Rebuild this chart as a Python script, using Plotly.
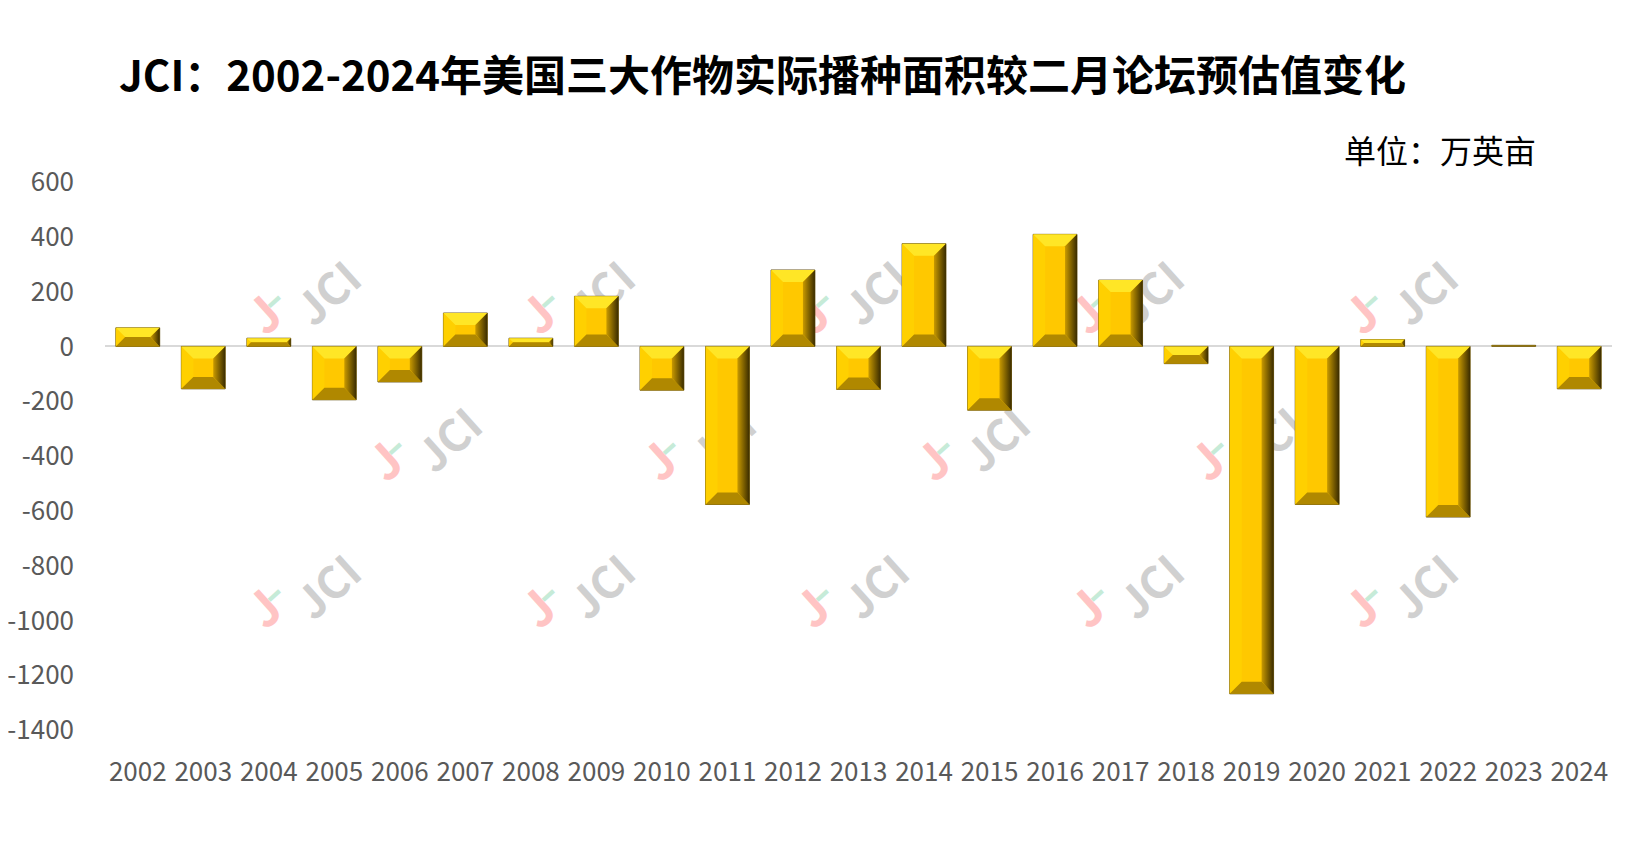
import plotly.graph_objects as go

# ---- data ----
years = [str(y) for y in range(2002, 2025)]
changes = [68, -155, 30, -195, -130, 122, 30, 183, -160, -577, 279, -157,
           375, -233, 409, 242, -63, -1268, -577, 25, -623, 4, -155]
y_ticks = list(range(-1400, 601, 200))
y_ticktext = [str(v) for v in y_ticks]

title_text = "JCI：2002-2024年美国三大作物实际播种面积较二月论坛预估值变化"
unit_text = "单位：万英亩"

# ---- layout constants (figure coords = page coords - 8px body margin) ----
OFF = 8
W, H = 1640, 837
ML, MT = 97, 173.5
PLOT_R, PLOT_B = 1604, 722
MR, MB = W - PLOT_R, H - PLOT_B
PW, PH = PLOT_R - ML, PLOT_B - MT
YMIN, YMAX = -1400, 600
BAR_W = 0.67
FONT = "Noto Sans CJK SC"
px_x = PW / len(years)
px_y = PH / (YMAX - YMIN)
BEVEL = 12

xs = list(range(len(years)))

fig = go.Figure()

# main face of bars
fig.add_trace(go.Bar(
    x=xs, y=changes, width=BAR_W,
    marker=dict(color="#FFC800", line=dict(color="#5A4500", width=0.8)),
    hoverinfo="x+y", showlegend=False,
))

# bevel facets computed from values
top_x, top_y, bot_x, bot_y, left_x, left_y = [], [], [], [], [], []
right_polys = []
hw = BAR_W / 2
for i, v in enumerate(changes):
    yt, yb = max(0, v), min(0, v)
    hpx = (yt - yb) * px_y
    b = min(BEVEL, hpx / 2, BAR_W * px_x / 2)
    bx, by = b / px_x, b / px_y
    xl, xr = i - hw, i + hw
    for X, Y, pts in (
        (top_x, top_y, [(xl, yt), (xr, yt), (xr - bx, yt - by), (xl + bx, yt - by)]),
        (bot_x, bot_y, [(xl, yb), (xr, yb), (xr - bx, yb + by), (xl + bx, yb + by)]),
        (left_x, left_y, [(xl, yt), (xl + bx, yt - by), (xl + bx, yb + by), (xl, yb)]),
    ):
        for p in pts + [pts[0]]:
            X.append(p[0]); Y.append(p[1])
        X.append(None); Y.append(None)
    right_polys.append([(xr, yt), (xr - bx, yt - by), (xr - bx, yb + by), (xr, yb), (xr, yt)])

def facet(X, Y, color):
    fig.add_trace(go.Scatter(x=X, y=Y, mode="lines", fill="toself",
                             fillcolor=color, line=dict(width=0),
                             hoverinfo="skip", showlegend=False))

facet(left_x, left_y, "#FFD000")
facet(top_x, top_y, "#FFE626")
facet(bot_x, bot_y, "#B08800")
for poly in right_polys:
    fig.add_trace(go.Scatter(
        x=[p[0] for p in poly], y=[p[1] for p in poly], mode="lines",
        fill="toself", line=dict(width=0),
        fillgradient=dict(type="horizontal",
                          colorscale=[[0, "#C99A00"], [1, "#3A2C00"]]),
        hoverinfo="skip", showlegend=False))

# ---- watermarks (below traces) ----
shapes = []
def px2paper(X, Y):
    X, Y = X - OFF, Y - OFF
    return (X - ML) / PW, (PLOT_B - Y) / PH

wm_rows = [
    (298, [329, 603, 877, 1152, 1426]),
    (445, [450, 724, 998, 1272]),
    (592, [329, 603, 877, 1152, 1426]),
]
for Y, xlist in wm_rows:
    for X in xlist:
        for dx, dy, txt, col, sz, bold in (
            (2, -2, "JCI", "#D0D0D0", 44, True),
            (-62, 20, "J", "#FFC4C4", 48, True),
            (-56, 2, "▬", "#C6EBD8", 14, False),
        ):
            px_, py_ = px2paper(X + dx, Y + dy)
            shapes.append(dict(
                type="rect", xref="paper", yref="paper",
                x0=px_ - 0.002, x1=px_ + 0.002, y0=py_ - 0.002, y1=py_ + 0.002,
                line=dict(width=0), fillcolor="rgba(0,0,0,0)", layer="below",
                label=dict(text=("<b>%s</b>" % txt) if bold else txt,
                           textangle=-42,
                           font=dict(family=FONT, size=sz, color=col),
                           textposition="middle center"),
            ))

fig.update_layout(
    width=W, height=H,
    margin=dict(l=ML, r=MR, t=MT, b=MB, autoexpand=False),
    paper_bgcolor="white", plot_bgcolor="white",
    font=dict(family=FONT, color="#595959"),
    title=dict(text="<b>" + title_text + "</b>", xref="container", yref="container",
               x=(119 - OFF) / W, xanchor="left", y=1 - (76.7 - OFF) / H, yanchor="middle",
               font=dict(family=FONT, size=42, color="#000000")),
    xaxis=dict(range=[-0.5, len(years) - 0.5], tickmode="array", tickvals=xs,
               ticktext=years, showgrid=False, zeroline=False, showline=False,
               ticks="", ticklabelstandoff=24, automargin=False,
               tickfont=dict(family=FONT, size=26, color="#595959")),
    yaxis=dict(range=[YMIN, YMAX], tickmode="array", tickvals=y_ticks,
               ticktext=y_ticktext, automargin=False,
               showgrid=False, zeroline=True, zerolinecolor="#D9D9D9",
               zerolinewidth=2, showline=False, ticks="", ticklabelstandoff=30,
               tickfont=dict(family=FONT, size=26, color="#595959")),
    shapes=shapes,
    annotations=[dict(text=unit_text, xref="paper", yref="paper",
                      x=(1538 - OFF - ML) / PW, xanchor="right",
                      y=(PLOT_B - (148 - OFF)) / PH, yanchor="middle", showarrow=False,
                      font=dict(family=FONT, size=32, color="#000000"))],
    showlegend=False,
)

fig.write_html("out.html")
